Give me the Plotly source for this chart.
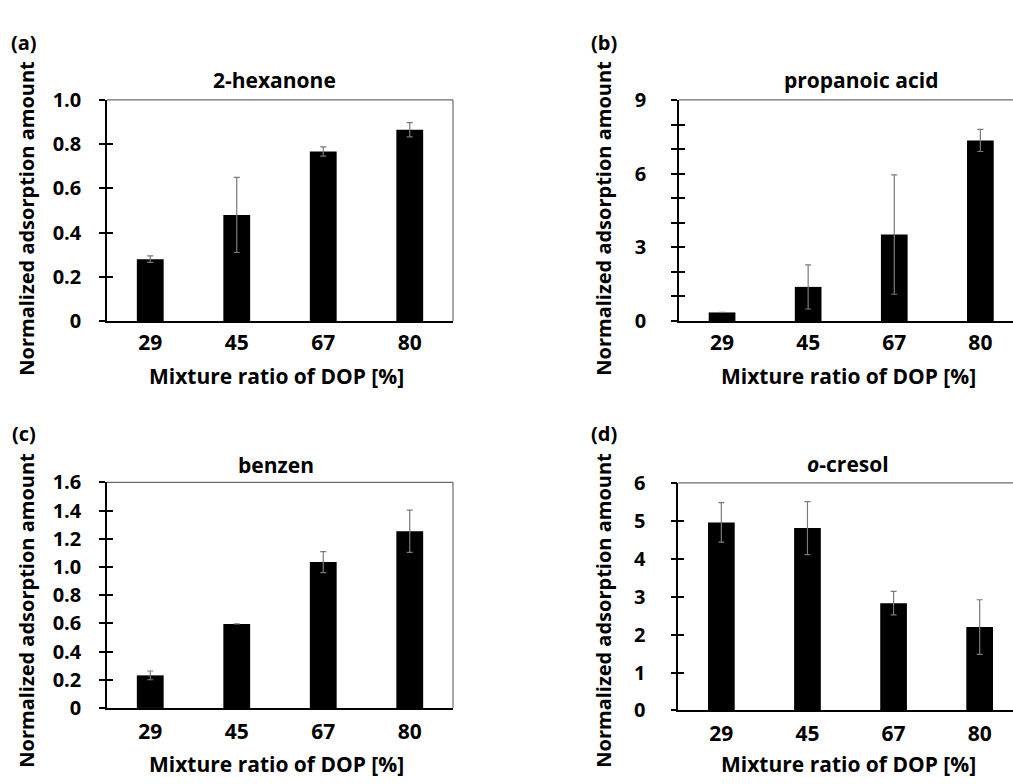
import plotly.graph_objects as go

W, H = 1013, 784

# ---------------- data ----------------
categories = ["29", "45", "67", "80"]

hexanone = [0.28, 0.48, 0.767, 0.865]
hexanone_err = [0.015, 0.17, 0.021, 0.032]

propanoic = [0.35, 1.39, 3.52, 7.35]
propanoic_err = [None, 0.9, 2.43, 0.45]

benzen = [0.231, 0.596, 1.034, 1.253]
benzen_err = [0.031, None, 0.075, 0.15]

cresol = [4.96, 4.81, 2.83, 2.20]
cresol_err = [0.52, 0.70, 0.31, 0.72]

ticks_a = [0, 0.2, 0.4, 0.6, 0.8, 1.0]
labels_a = ["0", "0.2", "0.4", "0.6", "0.8", "1.0"]
ticks_b = [0, 1, 2, 3, 4, 5, 6, 7, 8, 9]
labels_b = ["0", "", "", "3", "", "", "6", "", "", "9"]
ticks_c = [0, 0.2, 0.4, 0.6, 0.8, 1.0, 1.2, 1.4, 1.6]
labels_c = ["0", "0.2", "0.4", "0.6", "0.8", "1.0", "1.2", "1.4", "1.6"]
ticks_d = [0, 1, 2, 3, 4, 5, 6]
labels_d = ["0", "1", "2", "3", "4", "5", "6"]

FONT = "Open Sans"


def px(x):
    return x / W


def py(y):
    return 1 - y / H


panels = [
    dict(v=hexanone, e=hexanone_err, t=ticks_a, l=labels_a, yr=[0, 1.0],
         xd=[px(107), px(453)], yd=[py(318), py(89)], xr=[-0.5, 3.5]),
    dict(v=propanoic, e=propanoic_err, t=ticks_b, l=labels_b, yr=[0, 9],
         xd=[px(679), 1.0], yd=[py(318), py(89)], xr=[-0.5, 3.379]),
    dict(v=benzen, e=benzen_err, t=ticks_c, l=labels_c, yr=[0, 1.6],
         xd=[px(107), px(453)], yd=[py(718.7), py(485)], xr=[-0.5, 3.5]),
    dict(v=cresol, e=cresol_err, t=ticks_d, l=labels_d, yr=[0, 6],
         xd=[px(678.3), 1.0], yd=[py(721.3), py(485.7)], xr=[-0.5, 3.387]),
]

fig = go.Figure()
layout = dict(
    width=W, height=H,
    margin=dict(l=0, r=0, t=0, b=0),
    paper_bgcolor="white", plot_bgcolor="white",
    showlegend=False,
    bargap=0.69,
    font=dict(family=FONT, size=18, color="black"),
)
shapes = []

for i, p in enumerate(panels):
    n = i + 1
    xa = "x" if n == 1 else f"x{n}"
    ya = "y" if n == 1 else f"y{n}"
    fig.add_trace(go.Bar(
        x=categories, y=p["v"], xaxis=xa, yaxis=ya,
        marker=dict(color="black", line=dict(width=0)),
        error_y=dict(type="data", array=p["e"], visible=True,
                     color="#7a7a7a", thickness=1.2, width=3),
    ))
    layout[f"xaxis{'' if n == 1 else n}"] = dict(
        domain=p["xd"], anchor=ya, range=p["xr"], type="category",
        showline=True, linecolor="black", linewidth=1.5,
        ticks="", showgrid=False, zeroline=False,
        tickfont=dict(family=FONT, size=21, color="black", weight="bold"),
        ticklabelstandoff=2 if n in (1, 2) else 4,
    )
    layout[f"yaxis{'' if n == 1 else n}"] = dict(
        domain=p["yd"], anchor=xa, range=p["yr"],
        tickmode="array", tickvals=p["t"], ticktext=p["l"],
        showline=True, linecolor="black", linewidth=1.5,
        ticks="outside", ticklen=6, tickwidth=2, tickcolor="black",
        showgrid=False, zeroline=False,
        tickfont=dict(family=FONT, size=20, color="black", weight="bold"),
        ticklabelstandoff=14 if n in (1, 3) else 21,
    )
    # overlay axis to draw the inner half of the crossing tick marks
    ov = n + 4
    layout[f"yaxis{ov}"] = dict(
        overlaying=ya, anchor=xa, side="left", range=p["yr"],
        tickmode="array", tickvals=p["t"], showticklabels=False,
        showline=False, ticks="inside", ticklen=6, tickwidth=2,
        tickcolor="black", showgrid=False, zeroline=False,
    )
    fig.add_trace(go.Scatter(x=[], y=[], xaxis=xa, yaxis=f"y{ov}",
                             hoverinfo="skip", showlegend=False))
    # gray frame lines (top, and right where visible)
    shapes.append(dict(type="line", xref=f"{xa} domain", yref=f"{ya} domain",
                       x0=0, x1=1, y0=1, y1=1,
                       line=dict(color="#6a6a6a", width=1.2)))
    if n in (1, 3):
        shapes.append(dict(type="line", xref=f"{xa} domain", yref=f"{ya} domain",
                           x0=1, x1=1, y0=0, y1=1,
                           line=dict(color="#6a6a6a", width=1.2)))

layout["shapes"] = shapes

ann = []


def add_text(text, x, y, size=21, angle=0):
    ann.append(dict(text=text, x=px(x), y=py(y), xref="paper", yref="paper",
                    showarrow=False, xanchor="center", yanchor="middle",
                    textangle=angle,
                    font=dict(family=FONT, size=size, color="black", weight="bold")))


# panel letters
add_text("(a)", 24, 30, 20)
add_text("(b)", 604, 30, 20)
add_text("(c)", 24, 434, 20)
add_text("(d)", 604, 434, 20)
# panel titles
add_text("2-hexanone", 274, 68)
add_text("propanoic acid", 861, 68)
add_text("benzen", 276, 467)
add_text("<i>o</i>-cresol", 848, 466)
# axis titles
ytitle = "Normalized adsorption amount"
xtitle = "Mixture ratio of DOP [%]"
add_text(ytitle, 27, 212, 20, -90)
add_text(ytitle, 604, 212, 20, -90)
add_text(ytitle, 27, 618, 20, -90)
add_text(ytitle, 604, 618, 20, -90)
add_text(xtitle, 276, 375)
add_text(xtitle, 848, 375)
add_text(xtitle, 276, 777)
add_text(xtitle, 848, 777)

layout["annotations"] = ann
fig.update_layout(**layout)
fig.write_html("out.html")
